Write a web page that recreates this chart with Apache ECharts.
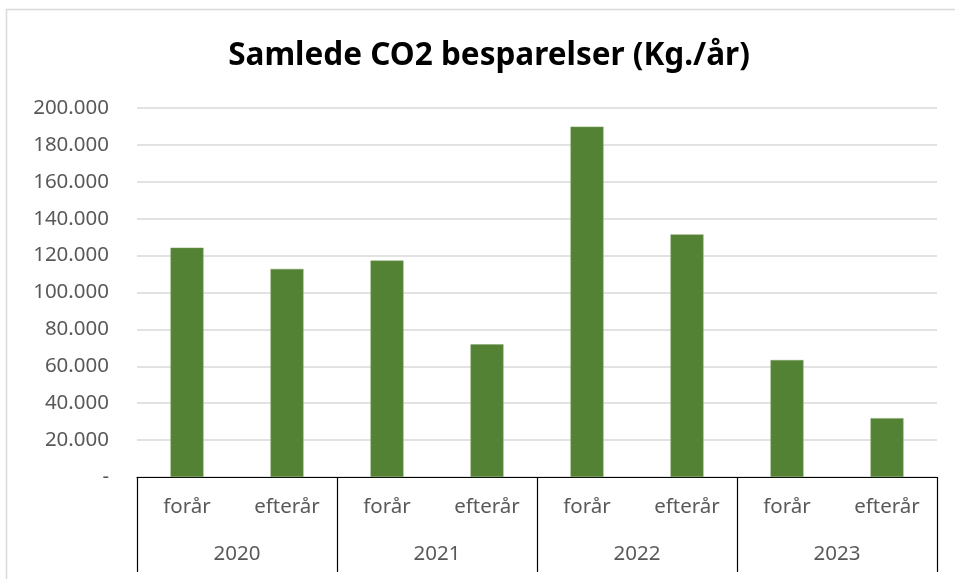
<!DOCTYPE html>
<html><head><meta charset="utf-8">
<script src="https://cdn.jsdelivr.net/npm/echarts@6/dist/echarts.min.js"></script>
<style>html,body{margin:0;padding:0;background:#fff}#c{width:955px;height:579px}</style>
</head><body><div id="c"></div>
<script>
const seasons = ['forår','efterår','forår','efterår','forår','efterår','forår','efterår'];
const years = ['2020','2021','2022','2023'];
const savings = [124300, 112800, 117300, 71900, 189900, 131500, 63400, 31900];
const yTicks = {min: 0, max: 200000, interval: 20000};

const chart = echarts.init(document.getElementById('c'), null, {renderer: 'canvas'});
const font = 'Noto Sans';
chart.setOption({
  animation: false,
  backgroundColor: '#fff',
  graphic: [{type: 'rect', shape: {x: 6.5, y: 9.5, width: 960, height: 600}, style: {fill: 'none', stroke: '#d9d9d9', lineWidth: 1.5}}],
  title: {text: 'Samlede CO2 besparelser (Kg./år)', left: 484, top: 35, textAlign: 'center',
    textStyle: {fontFamily: font, fontWeight: 'bold', fontSize: 31.5, color: '#000'}},
  grid: {left: 137, right: 18, top: 108, bottom: 102, containLabel: false},
  xAxis: [
    {type: 'category', data: seasons, position: 'bottom',
      axisLine: {show: true, lineStyle: {color: '#000', width: 1.2}},
      axisTick: {show: false},
      axisLabel: {margin: 20, fontFamily: font, fontSize: 20.5, color: '#595959'}},
    {type: 'category', data: years, position: 'bottom',
      axisLine: {show: false},
      axisTick: {show: true, length: 95, lineStyle: {color: '#000', width: 1.2}},
      axisLabel: {margin: 67, fontFamily: font, fontSize: 20.5, color: '#595959'}}
  ],
  yAxis: {type: 'value', min: yTicks.min, max: yTicks.max, interval: yTicks.interval,
    axisLine: {show: false}, axisTick: {show: false},
    splitLine: {lineStyle: {color: '#d9d9d9', width: 1.5}},
    axisLabel: {margin: 28, fontFamily: font, fontSize: 20.5, color: '#595959',
      formatter: v => v === 0 ? '-' : v.toLocaleString('de-DE')}},
  series: [{type: 'bar', data: savings, xAxisIndex: 0, barWidth: 33,
    itemStyle: {color: '#548235', borderColor: '#7fa366', borderWidth: 0.5}}]
});
</script></body></html>
